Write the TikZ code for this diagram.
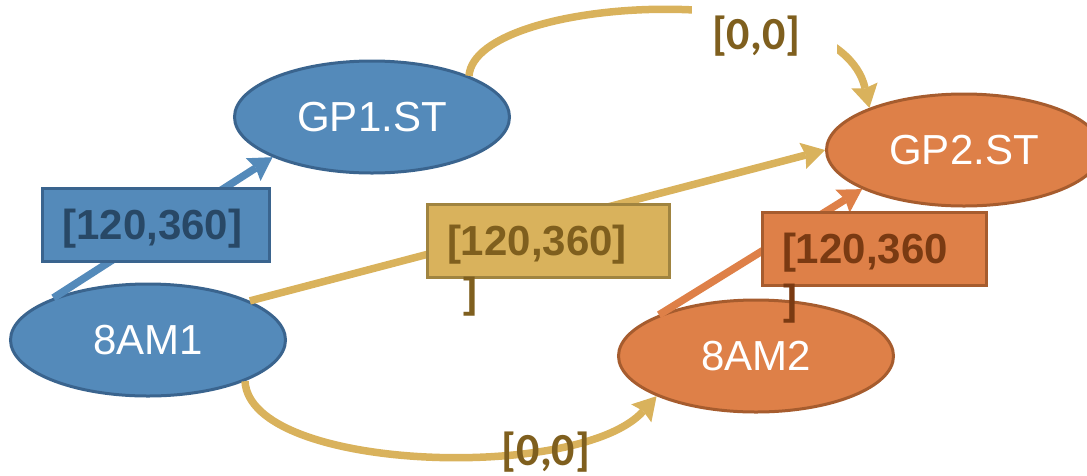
\documentclass[tikz,border=0pt]{standalone}
\usepackage{fontspec}
\setmainfont{Liberation Sans}
\newfontfamily\carlito{Carlito}
\usetikzlibrary{arrows.meta,shapes.geometric}

\definecolor{blueFill}{RGB}{84,138,186}
\definecolor{blueLine}{RGB}{58,100,142}
\definecolor{blueText}{RGB}{40,72,102}
\definecolor{orangeFill}{RGB}{222,128,72}
\definecolor{orangeLine}{RGB}{166,92,46}
\definecolor{orangeText}{RGB}{122,58,18}
\definecolor{goldFill}{RGB}{217,178,92}
\definecolor{goldLine}{RGB}{160,132,64}
\definecolor{goldText}{RGB}{127,95,30}

\tikzset{
  state/.style={ellipse, draw, line width=3pt, minimum width=275pt,
    minimum height=112pt, inner sep=0pt, text=white,
    font=\fontsize{42}{50}\selectfont},
  bluestate/.style={state, fill=blueFill, draw=blueLine},
  orangestate/.style={state, fill=orangeFill, draw=orangeLine},
  tag/.style={rectangle, line width=3pt, inner xsep=20pt, inner ysep=0pt,
    minimum height=73pt, align=left, text height=38pt, text depth=8.4pt,
    font=\bfseries\fontsize{42}{54}\selectfont},
  bluetag/.style={tag, fill=blueFill, draw=blueLine, text=blueText},
  goldtag/.style={tag, fill=goldFill, draw=goldLine, text=goldText},
  orangetag/.style={tag, fill=orangeFill, draw=orangeLine, text=orangeText},
  spill/.style={inner sep=0pt, font=\bfseries\fontsize{42}{54}\selectfont},
  delay/.style={inner sep=0pt, text=goldText,
    font=\carlito\bfseries\fontsize{46}{50}\selectfont},
  conn/.style={line width=7.5pt,
    -{Stealth[length=23pt,width=27pt,inset=3pt,line width=0pt]}},
}

\begin{document}
\begin{tikzpicture}[x=1pt,y=-1pt]
  \clip (0,0) rectangle (1087,475);

  % states
  \node[bluestate]   (gp1) at (372,117) {GP1.ST};
  \node[bluestate]   (am1) at (148,340) {8AM1};
  \node[orangestate] (gp2) at (964,150) {GP2.ST};
  \node[orangestate] (am2) at (756,356) {8AM2};

  % straight constraints
  \draw[conn, blueFill]   (am1.156.8) -- (gp1.202.5);
  \draw[conn, goldFill]   (am1.21.4)  -- (gp2.180);
  \draw[conn, orangeFill] (am2.157.3) -- (gp2.201.9);

  % curved zero-delay links
  \draw[conn, goldFill] (gp1.23.6) .. controls (475,-5) and (840,-25) .. (gp2.156.4);
  \draw[conn, goldFill] (am1.-23.5) .. controls (250,472) and (580,482) .. (am2.202.9);

  % interval tags
  \node[bluetag, text width=187pt]   (t1) at (156,224.5) {[120,360]};
  \node[goldtag, text width=202pt]   (t2) at (548,240.5) {[120,360]};
  \node[orangetag, text width=184pt] (t3) at (874,249)   {[120,360};
  \node[spill, text=goldText]   (t2b) at (470,297) {]};
  \node[spill, text=orangeText] (t3b) at (790,304) {]};

  % delay labels
  \node[delay, fill=white, minimum width=145pt, minimum height=64pt,
        text width=145pt, align=left] (d1) at (764.5,36) {\hspace*{20pt}[0,0]};
  \node[delay] (d2) at (546,452) {[0,0]};
\end{tikzpicture}
\end{document}
